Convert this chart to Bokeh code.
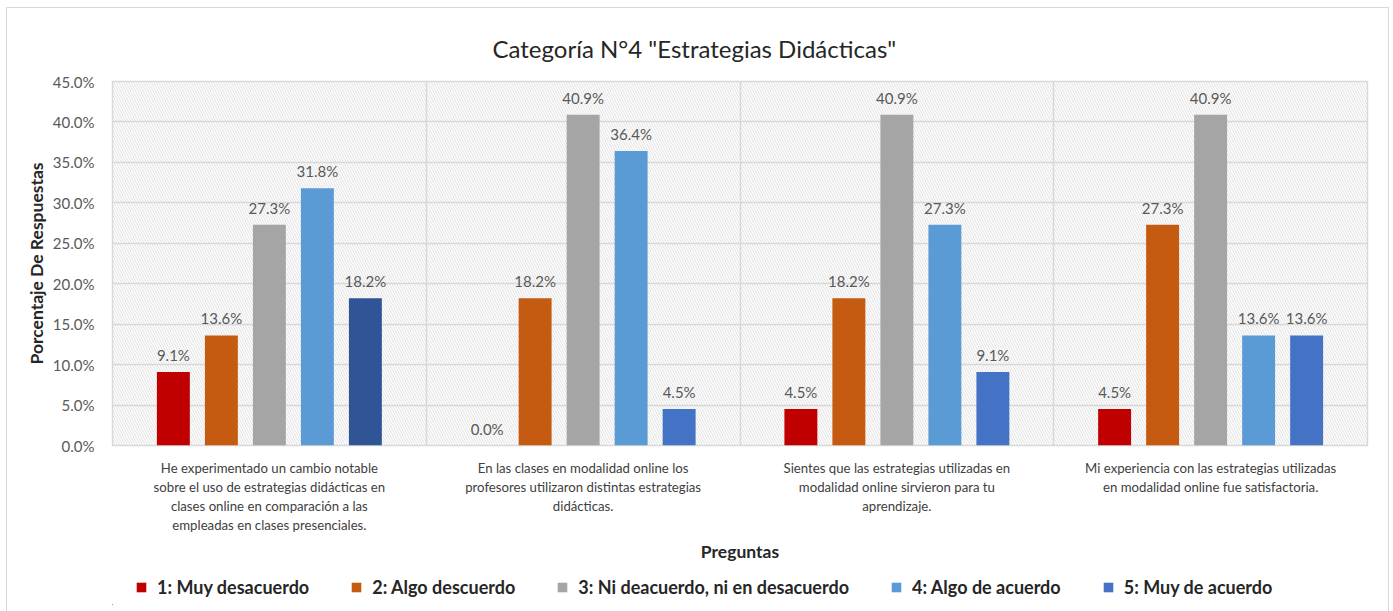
from bokeh.plotting import figure
from bokeh.layouts import column
from bokeh.models import (ColumnDataSource, Range1d, FixedTicker, SingleIntervalTicker,
                          NumeralTickFormatter, BoxAnnotation, Legend, LegendItem, Title)
from bokeh.transform import dodge
from bokeh.core.properties import value
from bokeh.embed import file_html
from bokeh.resources import INLINE

# ---- data ----
questions = [
    "He experimentado un cambio notable\nsobre el uso de estrategias didácticas en\nclases online en comparación a las\nempleadas en clases presenciales.",
    "En las clases en modalidad online los\nprofesores utilizaron distintas estrategias\ndidácticas.",
    "Sientes que las estrategias utilizadas en\nmodalidad online sirvieron para tu\naprendizaje.",
    "Mi experiencia con las estrategias utilizadas\nen modalidad online fue satisfactoria.",
]
series_names = ["1: Muy desacuerdo", "2: Algo descuerdo", "3: Ni deacuerdo, ni en desacuerdo",
                "4: Algo de acuerdo", "5: Muy de acuerdo"]
s1 = [9.1, 0.0, 4.5, 4.5]
s2 = [13.6, 18.2, 18.2, 27.3]
s3 = [27.3, 40.9, 40.9, 40.9]
s4 = [31.8, 36.4, 27.3, 13.6]
s5 = [18.2, 4.5, 9.1, 13.6]
series_values = [s1, s2, s3, s4, s5]
series_colors = [
    ["#C00000"] * 4,
    ["#C55A11"] * 4,
    ["#A5A5A5"] * 4,
    ["#5B9BD5"] * 4,
    ["#2F5597", "#4472C4", "#4472C4", "#4472C4"],
]

FONT = "Lato"
spacing = 0.153
bar_w = 0.105

p = figure(width=1381, height=562, output_backend="svg", toolbar_location=None,
           x_range=Range1d(-0.5, 3.5), y_range=Range1d(0, 0.45),
           min_border_left=105, min_border_right=21, min_border_top=73, min_border_bottom=125)

p.title = Title(text='Categoría N°4 "Estrategias Didácticas"', align="left",
                text_font=FONT, text_font_size="24px", text_font_style="normal",
                text_color="#262626", offset=380, standoff=38)

# hatched plot background
p.add_layout(BoxAnnotation(fill_alpha=0, line_color=None, hatch_pattern="left_diagonal_line",
                           hatch_color="#D4D4D4", hatch_scale=5, hatch_weight=0.7, level="underlay"))

p.outline_line_color = "#D9D9D9"
p.outline_line_width = 1.5
p.background_fill_color = "white"

# grids
p.ygrid.ticker = SingleIntervalTicker(interval=0.05)
p.ygrid.grid_line_color = "#D9D9D9"
p.ygrid.grid_line_width = 1.5
p.xgrid.ticker = FixedTicker(ticks=[0.5, 1.5, 2.5])
p.xgrid.grid_line_color = "#D9D9D9"
p.xgrid.grid_line_width = 1.5

sources = []
for i, (vals, cols) in enumerate(zip(series_values, series_colors)):
    off = (i - 2) * spacing
    src = ColumnDataSource(dict(
        x=list(range(len(questions))),
        top=[v / 100 for v in vals],
        color=cols,
        label=[f"{v:.1f}%" for v in vals],
    ))
    sources.append(src)
    p.vbar(x=dodge("x", off, range=p.x_range), top="top", width=bar_w, source=src,
           fill_color="color", line_color=None)
    p.text(x=dodge("x", off, range=p.x_range), y="top", text="label", source=src,
           text_align="center", text_baseline="bottom", y_offset=-8,
           text_font=value(FONT), text_font_size="15px", text_color="#595959")

# axes
p.yaxis.ticker = SingleIntervalTicker(interval=0.05)
p.yaxis.formatter = NumeralTickFormatter(format="0.0%")
p.yaxis.axis_label = "Porcentaje De Respuestas"
p.xaxis.ticker = FixedTicker(ticks=[0, 1, 2, 3])
p.xaxis.major_label_overrides = {i: q for i, q in enumerate(questions)}
p.xaxis.axis_label = "Preguntas"
for ax in (p.xaxis[0], p.yaxis[0]):
    ax.axis_line_color = None
    ax.major_tick_line_color = None
    ax.minor_tick_line_color = None
    ax.major_label_text_font = FONT
    ax.major_label_text_font_size = "15px"
    ax.major_label_text_color = "#595959"
    ax.axis_label_text_font = FONT
    ax.axis_label_text_font_size = "17.5px"
    ax.axis_label_text_font_style = "bold"
    ax.axis_label_text_color = "#262626"
p.xaxis.major_label_text_color = "#404040"
p.xaxis.major_label_text_font_size = "13.2px"
p.xaxis.major_label_text_line_height = 1.2
p.yaxis.major_label_standoff = 12
p.yaxis.axis_label_standoff = 3
p.xaxis.major_label_standoff = 8
p.xaxis.axis_label_standoff = 5

# legend strip (separate figure below the chart; its bars lie outside its view)
lg = figure(width=1381, height=41, output_backend="svg", toolbar_location=None,
            x_range=Range1d(100, 101), y_range=Range1d(2, 3),
            min_border_left=0, min_border_right=0, min_border_top=0, min_border_bottom=7)
lg.axis.visible = False
lg.grid.visible = False
lg.outline_line_color = None
items = []
for i, (name, src) in enumerate(zip(series_names, sources)):
    r = lg.vbar(x="x", top="top", width=bar_w, source=src, fill_color="color", line_color=None)
    items.append(LegendItem(label=name, renderers=[r], index=1 if i == 4 else 0))
legend = Legend(items=items, orientation="horizontal", location=(23, 6),
                label_text_font=FONT, label_text_font_size="18px", label_text_font_style="bold",
                label_text_color="#262626", glyph_width=12, glyph_height=12, label_standoff=10,
                spacing=41, border_line_color=None, background_fill_alpha=0,
                padding=2, margin=0)
lg.add_layout(legend, "center")

layout = column(p, lg, spacing=0,
                styles={"margin-left": "7px", "margin-top": "8px",
                        "outline": "1px solid #D9D9D9"})

open("out.html", "w").write(file_html(layout, INLINE))
